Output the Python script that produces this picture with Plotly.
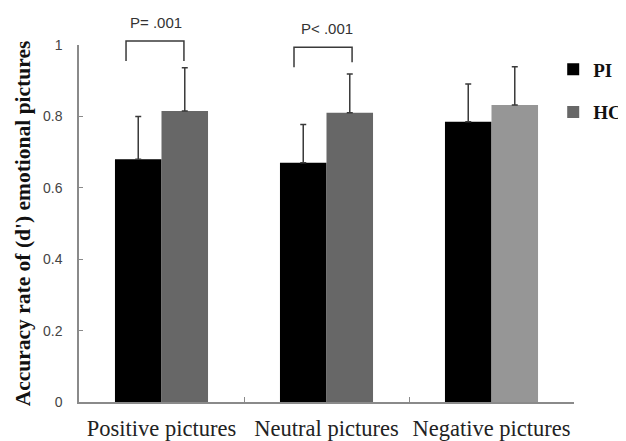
import plotly.graph_objects as go

categories = ["Positive pictures", "Neutral pictures", "Negative pictures"]
pi_values = [0.68, 0.67, 0.785]
pi_errors = [0.12, 0.107, 0.106]
hc_values = [0.815, 0.81, 0.832]
hc_errors = [0.121, 0.109, 0.107]
hc_colors = ["#676767", "#676767", "#969696"]
y_ticks = [0, 0.2, 0.4, 0.6, 0.8, 1]
y_tick_labels = ["0", "0.2", "0.4", "0.6", "0.8", "1"]

serif = "Liberation Serif, Times New Roman, serif"
sans = "Liberation Sans, Arial, sans-serif"

fig = go.Figure()
fig.add_trace(go.Bar(
    name="PI", x=categories, y=pi_values, marker=dict(color="#000000", line=dict(width=0)),
    error_y=dict(type="data", symmetric=False, array=pi_errors, arrayminus=[0] * 3,
                 color="#3a3a3a", thickness=1.5, width=3),
    legendgroup="a",
))
fig.add_trace(go.Bar(
    name="HC", x=categories, y=hc_values, marker=dict(color=hc_colors, line=dict(width=0)),
    error_y=dict(type="data", symmetric=False, array=hc_errors, arrayminus=[0] * 3,
                 color="#3a3a3a", thickness=1.5, width=3),
    legendgroup="b",
))

# significance brackets: (x_left, x_right, y_top, y_left_bottom, y_right_bottom, label, label_x, label_y)
brackets = [
    (-0.215, 0.136, 1.011, 0.955, 0.955, "P= .001", -0.035, 1.062),
    (0.803, 1.155, 0.994, 0.938, 0.952, "P< .001", 1.003, 1.045),
]
shapes = []
annotations = []
for xl, xr, yt, ylb, yrb, lab, lx, ly in brackets:
    shapes.append(dict(type="path", xref="x", yref="paper",
                       path=f"M {xl} {ylb} L {xl} {yt} L {xr} {yt} L {xr} {yrb}",
                       line=dict(color="#3a3a3a", width=1.5)))
    annotations.append(dict(x=lx, y=ly, xref="x", yref="paper", text=lab, showarrow=False,
                            font=dict(family=sans, size=15, color="#333333"),
                            xanchor="center", yanchor="middle"))

fig.update_layout(
    width=618, height=433,
    margin=dict(l=71, r=52, t=37, b=39, autoexpand=False),
    paper_bgcolor="white", plot_bgcolor="white",
    barmode="group", bargap=0.436, bargroupgap=0,
    showlegend=True,
    legend=dict(x=0.958, y=0.985, xanchor="left", yanchor="top",
                font=dict(family=serif, size=19, color="#111111", weight="bold"),
                tracegroupgap=15, bgcolor="rgba(0,0,0,0)"),
    shapes=shapes, annotations=annotations,
)
fig.update_xaxes(
    showline=True, linecolor="#8a8a8a", linewidth=1.5,
    ticks="inside", tickson="boundaries", ticklen=5, tickcolor="#8a8a8a",
    tickfont=dict(family=serif, size=22.5, color="#222222"),
    tickangle=0, automargin=False,
    ticklabelstandoff=5, showgrid=False, zeroline=False,
)
fig.update_yaxes(
    range=[0, 1], tickvals=y_ticks, ticktext=y_tick_labels,
    showline=True, linecolor="#8a8a8a", linewidth=1.5,
    ticks="inside", ticklen=4, tickcolor="#8a8a8a",
    tickfont=dict(family=sans, size=14, color="#444444"),
    ticklabelstandoff=12, showgrid=False, zeroline=False, automargin=False,
    title=dict(text="Accuracy rate of (d') emotional pictures", standoff=6,
               font=dict(family=serif, size=21.5, color="#111111", weight="bold")),
)
fig.write_html("out.html")
